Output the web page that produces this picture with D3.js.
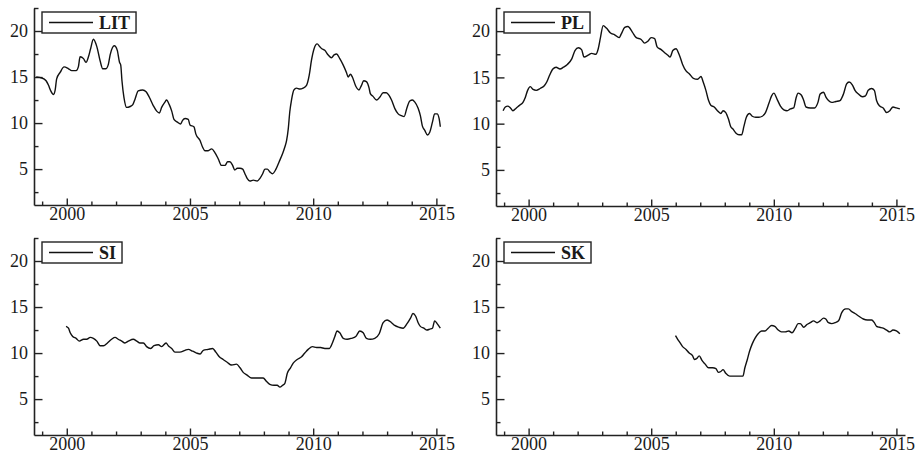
<!DOCTYPE html>
<html>
<head>
<meta charset="utf-8">
<script src="https://cdn.jsdelivr.net/npm/d3@7"></script>
<style>
  body { margin: 0; background: #fff; }
  svg text { font-family: "Liberation Serif", "Times New Roman", serif; fill: #1a1a1a; }
</style>
</head>
<body>
<div id="chart"></div>
<script>
// series, [year, value]
const LIT = [
  [1998.76, 15.0], [1998.99, 14.9], [1999.16, 14.6], [1999.26, 14.1], [1999.35, 13.5], [1999.46, 13.1],
  [1999.53, 13.6], [1999.59, 14.8], [1999.73, 15.5], [1999.89, 16.1], [2000.07, 15.9], [2000.2, 15.7],
  [2000.38, 15.7], [2000.47, 16.1], [2000.54, 17.2], [2000.68, 17.0], [2000.78, 16.6], [2000.88, 17.2],
  [2000.97, 18.1], [2001.08, 19.1], [2001.22, 18.3], [2001.35, 16.8], [2001.46, 15.9], [2001.59, 15.9],
  [2001.69, 16.4], [2001.76, 17.4], [2001.93, 18.4], [2002.05, 17.9], [2002.14, 16.6], [2002.19, 16.3],
  [2002.24, 14.6], [2002.32, 12.8], [2002.43, 11.7], [2002.57, 11.8], [2002.68, 12.0], [2002.77, 12.6],
  [2002.9, 13.5], [2003.08, 13.6], [2003.22, 13.4], [2003.35, 12.8], [2003.51, 11.9], [2003.65, 11.3],
  [2003.76, 11.1], [2003.85, 11.7], [2003.99, 12.3], [2004.05, 12.5], [2004.16, 12.0], [2004.26, 11.3],
  [2004.35, 10.4], [2004.49, 10.1], [2004.62, 9.9], [2004.7, 10.3], [2004.8, 10.5], [2004.93, 10.4],
  [2005.0, 9.8], [2005.16, 9.6], [2005.24, 8.8], [2005.41, 8.1], [2005.51, 7.4], [2005.61, 7.0],
  [2005.74, 7.0], [2005.88, 7.2], [2006.01, 6.8], [2006.15, 6.1], [2006.28, 5.4], [2006.42, 5.4],
  [2006.53, 5.8], [2006.62, 5.8], [2006.73, 5.4], [2006.82, 4.9], [2006.92, 5.1], [2007.03, 5.1],
  [2007.14, 5.0], [2007.23, 4.5], [2007.32, 4.0], [2007.43, 3.7], [2007.57, 3.8], [2007.73, 3.7],
  [2007.84, 4.0], [2007.95, 4.5], [2008.04, 5.0], [2008.14, 5.0], [2008.24, 4.7], [2008.35, 4.5],
  [2008.49, 5.0], [2008.62, 5.8], [2008.76, 6.7], [2008.85, 7.4], [2008.92, 8.1], [2008.99, 9.4],
  [2009.05, 11.2], [2009.12, 12.5], [2009.22, 13.6], [2009.32, 13.8], [2009.46, 13.7], [2009.59, 13.8],
  [2009.73, 14.1], [2009.84, 15.2], [2009.93, 16.8], [2010.04, 18.1], [2010.16, 18.6], [2010.27, 18.3],
  [2010.34, 18.1], [2010.47, 17.9], [2010.61, 17.4], [2010.74, 17.1], [2010.85, 17.4], [2010.95, 17.5],
  [2011.08, 17.0], [2011.22, 16.3], [2011.35, 15.5], [2011.42, 15.0], [2011.51, 15.3], [2011.59, 15.0],
  [2011.73, 14.0], [2011.86, 13.6], [2011.96, 14.1], [2012.05, 14.6], [2012.16, 14.5], [2012.27, 13.8],
  [2012.32, 13.2], [2012.43, 12.9], [2012.57, 12.5], [2012.7, 12.8], [2012.84, 13.3], [2012.97, 13.3],
  [2013.08, 13.0], [2013.18, 12.5], [2013.31, 11.6], [2013.45, 11.0], [2013.58, 10.8], [2013.69, 10.7],
  [2013.81, 11.7], [2013.92, 12.4], [2014.03, 12.5], [2014.12, 12.3], [2014.26, 11.6], [2014.35, 10.8],
  [2014.43, 9.7], [2014.53, 9.2], [2014.64, 8.7], [2014.73, 9.0], [2014.84, 10.1], [2014.93, 11.0],
  [2015.03, 11.0], [2015.11, 10.5], [2015.16, 9.6]
]

const PL = [
  [1998.96, 11.4], [1999.05, 11.8], [1999.15, 11.9], [1999.26, 11.7], [1999.36, 11.4], [1999.5, 11.7],
  [1999.64, 12.0], [1999.77, 12.3], [1999.86, 12.8], [1999.96, 13.6], [2000.07, 14.0], [2000.18, 13.7],
  [2000.31, 13.6], [2000.47, 13.8], [2000.64, 14.1], [2000.74, 14.5], [2000.85, 15.2], [2000.99, 15.9],
  [2001.12, 16.1], [2001.28, 15.9], [2001.42, 16.1], [2001.58, 16.4], [2001.76, 17.0], [2001.89, 17.9],
  [2002.03, 18.2], [2002.16, 18.0], [2002.26, 17.2], [2002.43, 17.4], [2002.57, 17.6], [2002.74, 17.5],
  [2002.84, 18.1], [2002.93, 19.3], [2003.04, 20.6], [2003.18, 20.3], [2003.34, 19.8], [2003.51, 19.6],
  [2003.69, 19.3], [2003.78, 19.7], [2003.92, 20.4], [2004.05, 20.5], [2004.23, 19.9], [2004.39, 19.3],
  [2004.59, 19.1], [2004.73, 18.7], [2004.86, 18.9], [2005.0, 19.3], [2005.14, 19.2], [2005.24, 18.3],
  [2005.41, 18.0], [2005.54, 17.7], [2005.68, 17.4], [2005.77, 17.2], [2005.88, 17.9], [2006.01, 18.1],
  [2006.15, 17.4], [2006.28, 16.4], [2006.42, 15.7], [2006.55, 15.4], [2006.72, 14.9], [2006.89, 14.8],
  [2007.03, 15.1], [2007.12, 14.5], [2007.23, 13.6], [2007.34, 12.5], [2007.43, 12.0], [2007.57, 11.8],
  [2007.7, 11.4], [2007.84, 11.1], [2007.93, 11.4], [2008.04, 11.2], [2008.15, 10.5], [2008.24, 9.7],
  [2008.34, 9.4], [2008.45, 9.0], [2008.58, 8.8], [2008.69, 8.8], [2008.78, 9.7], [2008.88, 10.7],
  [2009.01, 11.1], [2009.12, 10.8], [2009.26, 10.7], [2009.39, 10.7], [2009.53, 10.8], [2009.66, 11.2],
  [2009.8, 12.2], [2009.91, 13.0], [2010.0, 13.3], [2010.14, 12.6], [2010.27, 11.9], [2010.41, 11.5],
  [2010.54, 11.4], [2010.68, 11.6], [2010.81, 11.7], [2010.91, 12.8], [2010.99, 13.3], [2011.12, 13.1],
  [2011.22, 12.5], [2011.31, 11.8], [2011.49, 11.7], [2011.66, 11.7], [2011.8, 12.3], [2011.89, 13.2],
  [2012.03, 13.4], [2012.12, 12.9], [2012.23, 12.5], [2012.36, 12.3], [2012.53, 12.4], [2012.7, 12.5],
  [2012.84, 13.2], [2012.97, 14.3], [2013.07, 14.5], [2013.2, 14.2], [2013.31, 13.6], [2013.45, 13.2],
  [2013.61, 12.9], [2013.74, 13.0], [2013.85, 13.6], [2013.99, 13.8], [2014.1, 13.6], [2014.19, 12.5],
  [2014.32, 11.9], [2014.46, 11.7], [2014.6, 11.2], [2014.73, 11.4], [2014.86, 11.8], [2015.0, 11.7],
  [2015.14, 11.6]
]

const SI = [
  [1999.97, 12.9], [2000.07, 12.7], [2000.14, 12.2], [2000.24, 11.8], [2000.38, 11.6], [2000.51, 11.3],
  [2000.68, 11.5], [2000.81, 11.5], [2000.95, 11.7], [2001.08, 11.6], [2001.22, 11.3], [2001.35, 10.8],
  [2001.49, 10.8], [2001.65, 11.1], [2001.82, 11.5], [2001.96, 11.7], [2002.09, 11.5], [2002.23, 11.3],
  [2002.36, 11.1], [2002.5, 11.3], [2002.7, 11.5], [2002.84, 11.3], [2002.97, 11.1], [2003.11, 11.1],
  [2003.24, 10.7], [2003.41, 10.5], [2003.54, 10.8], [2003.72, 10.9], [2003.85, 10.7], [2004.03, 11.1],
  [2004.12, 10.8], [2004.26, 10.5], [2004.39, 10.1], [2004.59, 10.1], [2004.8, 10.3], [2004.93, 10.4],
  [2005.11, 10.2], [2005.27, 10.0], [2005.41, 9.9], [2005.54, 10.3], [2005.74, 10.4], [2005.92, 10.5],
  [2006.05, 10.1], [2006.19, 9.6], [2006.35, 9.3], [2006.51, 9.0], [2006.69, 8.7], [2006.89, 8.8],
  [2007.03, 8.4], [2007.16, 7.9], [2007.32, 7.6], [2007.5, 7.3], [2007.64, 7.3], [2007.81, 7.3],
  [2007.97, 7.3], [2008.11, 6.9], [2008.24, 6.6], [2008.41, 6.5], [2008.54, 6.5], [2008.65, 6.3],
  [2008.76, 6.5], [2008.85, 6.7], [2008.95, 7.8], [2009.08, 8.4], [2009.19, 8.9], [2009.35, 9.3],
  [2009.53, 9.6], [2009.66, 10.0], [2009.8, 10.4], [2009.97, 10.7], [2010.14, 10.6], [2010.3, 10.6],
  [2010.47, 10.5], [2010.65, 10.5], [2010.78, 11.1], [2010.88, 11.8], [2010.97, 12.4], [2011.08, 12.2],
  [2011.22, 11.6], [2011.38, 11.5], [2011.55, 11.6], [2011.73, 11.8], [2011.89, 12.4], [2012.03, 12.2],
  [2012.16, 11.6], [2012.32, 11.5], [2012.5, 11.6], [2012.68, 12.1], [2012.84, 13.3], [2013.0, 13.6],
  [2013.18, 13.3], [2013.31, 13.0], [2013.49, 12.8], [2013.65, 12.7], [2013.81, 13.2], [2013.95, 13.8],
  [2014.05, 14.3], [2014.16, 14.0], [2014.26, 13.3], [2014.35, 12.9], [2014.49, 12.7], [2014.62, 12.5],
  [2014.73, 12.6], [2014.84, 12.7], [2014.93, 13.5], [2015.03, 13.2], [2015.11, 12.9], [2015.16, 12.7]
]

const SK = [
  [2005.99, 11.9], [2006.08, 11.5], [2006.18, 11.1], [2006.28, 10.7], [2006.42, 10.4], [2006.55, 10.0],
  [2006.69, 9.7], [2006.76, 9.3], [2006.85, 9.4], [2006.96, 9.7], [2007.07, 9.2], [2007.2, 8.8],
  [2007.34, 8.4], [2007.5, 8.4], [2007.64, 8.3], [2007.74, 7.9], [2007.84, 8.0], [2007.93, 8.2],
  [2008.04, 7.8], [2008.2, 7.5], [2008.38, 7.5], [2008.58, 7.5], [2008.74, 7.5], [2008.82, 8.4],
  [2008.92, 9.3], [2009.01, 10.2], [2009.12, 11.0], [2009.23, 11.6], [2009.36, 12.1], [2009.5, 12.4],
  [2009.64, 12.4], [2009.77, 12.7], [2009.91, 13.0], [2010.04, 12.9], [2010.18, 12.5], [2010.31, 12.3],
  [2010.47, 12.3], [2010.61, 12.4], [2010.74, 12.2], [2010.88, 12.7], [2010.99, 13.2], [2011.08, 13.2],
  [2011.22, 12.8], [2011.35, 13.1], [2011.49, 13.3], [2011.62, 13.5], [2011.76, 13.3], [2011.89, 13.5],
  [2012.03, 13.8], [2012.12, 13.7], [2012.23, 13.3], [2012.36, 13.2], [2012.5, 13.3], [2012.64, 13.5],
  [2012.77, 14.4], [2012.93, 14.8], [2013.04, 14.8], [2013.18, 14.5], [2013.31, 14.3], [2013.47, 14.0],
  [2013.65, 13.7], [2013.82, 13.6], [2013.99, 13.6], [2014.1, 13.3], [2014.19, 12.9], [2014.32, 12.8],
  [2014.46, 12.7], [2014.6, 12.5], [2014.73, 12.3], [2014.86, 12.5], [2015.0, 12.4], [2015.14, 12.1]
]

const seriesNames = ["LIT", "PL", "SI", "SK"]
const seriesData = [LIT, PL, SI, SK]

const xMajor = [2000, 2005, 2010, 2015]
const xMinor = [1999, 2001, 2002, 2003, 2004, 2006, 2007, 2008, 2009, 2011, 2012, 2013, 2014]
const yMajor = [5, 10, 15, 20]
const yMinor = [2.5, 7.5, 12.5, 17.5, 22.5]

const xDomain = [1998.67, 2015.35]
const yDomain = [1.1, 22.5]

const W = 917, H = 455

// plot areas (left, right, top, bottom)
const panels = [
  { x0: 34,  x1: 445, y0: 8,   y1: 205 },
  { x0: 496, x1: 905, y0: 8,   y1: 206 },
  { x0: 34,  x1: 445, y0: 238, y1: 435 },
  { x0: 496, x1: 905, y0: 238, y1: 435 }
]

const svg = d3.select("#chart")
  .append("svg")
  .attr("width", W)
  .attr("height", H)

panels.forEach(function(p, i) {
  const x = d3.scaleLinear().domain(xDomain).range([p.x0, p.x1])
  const y = d3.scaleLinear().domain(yDomain).range([p.y1, p.y0])

  const g = svg.append("g").attr("class", "panel")

  // x axis: long ticks on the 5-year marks, short ones in between, all pointing inward
  g.append("g")
    .attr("transform", "translate(0," + p.y1 + ")")
    .call(d3.axisBottom(x).tickValues(xMinor).tickSizeInner(-3.5).tickSizeOuter(0).tickFormat(""))
    .call(a => a.select(".domain").remove())
  const xa = g.append("g")
    .attr("transform", "translate(0," + p.y1 + ")")
    .call(d3.axisBottom(x).tickValues(xMajor).tickSizeInner(-6.5).tickSizeOuter(0)
      .tickPadding(2).tickFormat(d3.format("d")))
  xa.selectAll("text").style("font-size", "18px").attr("fill", "#1a1a1a")

  // y axis
  g.append("g")
    .attr("transform", "translate(" + p.x0 + ",0)")
    .call(d3.axisLeft(y).tickValues(yMinor).tickSizeInner(-4.5).tickSizeOuter(0).tickFormat(""))
    .call(a => a.select(".domain").remove())
  const ya = g.append("g")
    .attr("transform", "translate(" + p.x0 + ",0)")
    .call(d3.axisLeft(y).tickValues(yMajor).tickSizeInner(-8.5).tickSizeOuter(0).tickPadding(6))
  ya.selectAll("text").style("font-size", "18px").attr("fill", "#1a1a1a")

  g.selectAll(".domain").attr("stroke", "#222").attr("stroke-width", 1.6)
  g.selectAll(".tick line").attr("stroke", "#222").attr("stroke-width", 1.4)

  // the series
  const line = d3.line()
    .x(d => x(d[0]))
    .y(d => y(d[1]))
    .curve(d3.curveMonotoneX)

  g.append("path")
    .datum(seriesData[i])
    .attr("fill", "none")
    .attr("stroke", "#111")
    .attr("stroke-width", 1.4)
    .attr("stroke-linejoin", "round")
    .attr("d", line)

  // legend
  const lg = g.append("g").attr("transform", "translate(" + (p.x0 + 8) + "," + (p.y0 + 4) + ")")
  const box = lg.append("rect")
    .attr("x", 0).attr("y", 0)
    .attr("height", 21)
    .attr("fill", "#fff")
    .attr("stroke", "#222")
    .attr("stroke-width", 1.4)
  lg.append("line")
    .attr("x1", 7).attr("x2", 51)
    .attr("y1", 10.5).attr("y2", 10.5)
    .attr("stroke", "#111")
    .attr("stroke-width", 1.4)
  const t = lg.append("text")
    .attr("x", 57)
    .attr("y", 16.5)
    .style("font-size", "18px")
    .style("font-weight", "bold")
    .text(seriesNames[i])
  box.attr("width", 57 + t.node().getComputedTextLength() + 6)
})
</script>
</body>
</html>
